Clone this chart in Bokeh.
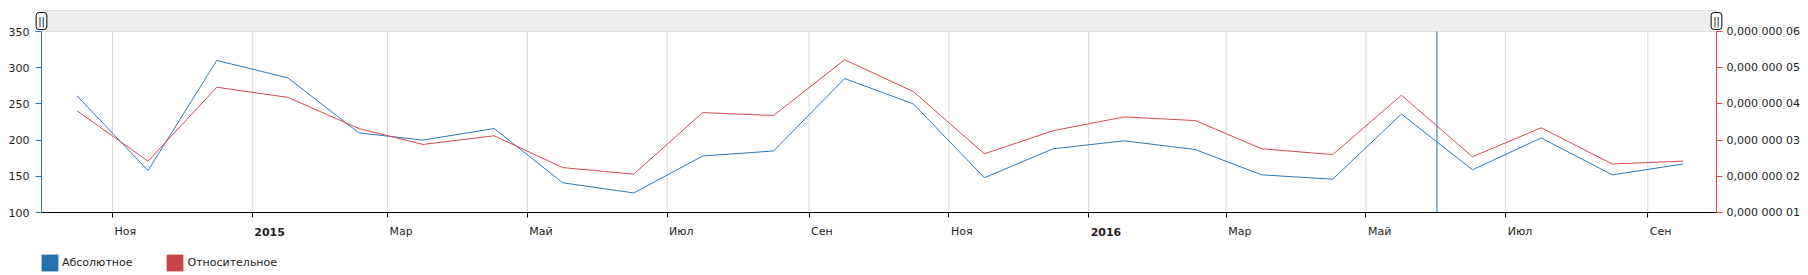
from datetime import datetime
from bokeh.plotting import figure
from bokeh.models import (Range1d, LinearAxis, FixedTicker, CustomJSTickFormatter,
                          Label, Legend, LegendItem)
from bokeh.embed import file_html
from bokeh.resources import INLINE

# ---------------- data ----------------
months = ["2014-10", "2014-11", "2014-12", "2015-01", "2015-02", "2015-03",
          "2015-04", "2015-05", "2015-06", "2015-07", "2015-08", "2015-09",
          "2015-10", "2015-11", "2015-12", "2016-01", "2016-02", "2016-03",
          "2016-04", "2016-05", "2016-06", "2016-07", "2016-08", "2016-09"]
absolute = [261, 158, 310, 286, 210, 200, 216, 141, 127, 178, 185, 285,
            250, 148, 188, 199, 187, 152, 146, 236, 159, 203, 152, 167]
relative = [3.81e-8, 2.42e-8, 4.46e-8, 4.18e-8, 3.32e-8, 2.88e-8, 3.12e-8, 2.24e-8,
            2.06e-8, 3.76e-8, 3.68e-8, 5.22e-8, 4.34e-8, 2.62e-8, 3.26e-8, 3.64e-8,
            3.54e-8, 2.76e-8, 2.60e-8, 4.24e-8, 2.54e-8, 3.34e-8, 2.34e-8, 2.42e-8]
tick_months = ["2014-11", "2015-01", "2015-03", "2015-05", "2015-07", "2015-09",
               "2015-11", "2016-01", "2016-03", "2016-05", "2016-07", "2016-09"]
tick_labels = ["Ноя", "2015", "Мар", "Май", "Июл", "Сен",
               "Ноя", "2016", "Мар", "Май", "Июл", "Сен"]
bold_labels = ["2015", "2016"]
left_ticks = [100, 150, 200, 250, 300, 350]
right_ticks = [1e-8, 2e-8, 3e-8, 4e-8, 5e-8, 6e-8]
cursor_month = "2016-06"
series_names = ["Абсолютное", "Относительное"]

# ---------------- helpers ----------------
EPOCH = datetime(1970, 1, 1)


def ms(dt):
    return (dt - EPOCH).total_seconds() * 1000.0


def mid(m):
    y, mo = map(int, m.split("-"))
    return datetime(y, mo, 16, 12)


def start(m):
    y, mo = map(int, m.split("-"))
    return datetime(y, mo, 1)


xs = [mid(m) for m in months]
tick_ms = [ms(start(m)) for m in tick_months]
x_start = datetime(2014, 10, 1)
x_end = datetime(2016, 10, 1)

# layout (pixels) -- the frame covers the whole canvas
W, H = 1808, 275
TOP, AXTOP, BOTTOM = 10, 31, 212
LEFT, RIGHT = 41, 1716

x_ppm = (RIGHT - LEFT) / (ms(x_end) - ms(x_start))
xr0 = ms(x_start) - LEFT / x_ppm
xr1 = ms(x_end) + (W - RIGHT) / x_ppm

y_lo, y_hi = left_ticks[0], left_ticks[-1]
ppu = (BOTTOM - AXTOP) / (y_hi - y_lo)
yr0 = y_lo - (H - BOTTOM) / ppu
yr1 = y_hi + AXTOP / ppu
y_band = y_hi + (AXTOP - TOP) / ppu

r_lo, r_hi = right_ticks[0], right_ticks[-1]
rpu = (BOTTOM - AXTOP) / (r_hi - r_lo)
rr0 = r_lo - (H - BOTTOM) / rpu
rr1 = r_hi + AXTOP / rpu


def ypx(py):  # screen y -> left-axis data
    return y_lo - (py - BOTTOM) / ppu


FONT = "DejaVu Sans"
BLUE = "#2f78b8"
RED = "#d24a4a"
BLUE_LEG = "#2471ad"
RED_LEG = "#c94444"
TXT = "#222222"

p = figure(width=W, height=H, x_axis_type="datetime", output_backend="svg",
           toolbar_location=None, x_range=Range1d(xr0, xr1),
           y_range=Range1d(yr0, yr1),
           min_border_left=0, min_border_right=0,
           min_border_top=0, min_border_bottom=0)
p.outline_line_color = None
p.background_fill_color = "white"
p.border_fill_color = "white"
p.extra_y_ranges = {"rel": Range1d(rr0, rr1)}
p.xgrid.visible = False
p.ygrid.visible = False

# vertical grid lines (bimonthly ticks), only over the plot area
p.segment(x0=tick_ms, y0=[y_lo] * len(tick_ms), x1=tick_ms, y1=[y_hi] * len(tick_ms),
          line_color="#d8d8d8", line_width=1)

# x axis (ticks only; labels placed left-aligned below)
xa = p.xaxis[0]
xa.fixed_location = y_lo
xa.bounds = (ms(x_start), ms(x_end))
xa.ticker = FixedTicker(ticks=tick_ms)
xa.formatter = CustomJSTickFormatter(code="return '';")
xa.axis_line_color = "black"
xa.major_tick_line_color = "black"
xa.major_tick_out = 5
xa.major_tick_in = 0
xa.minor_tick_line_color = None

# left axis
ya = p.yaxis[0]
ya.fixed_location = ms(x_start)
ya.ticker = FixedTicker(ticks=left_ticks)
ya.bounds = (y_lo, y_hi)
ya.axis_line_color = BLUE
ya.major_tick_line_color = BLUE
ya.major_tick_out = 6
ya.major_tick_in = 0
ya.minor_tick_line_color = None
ya.major_label_standoff = 6
ya.major_label_text_font = FONT
ya.major_label_text_font_size = "11px"
ya.major_label_text_color = TXT

# right axis
ra = LinearAxis(y_range_name="rel",
                ticker=FixedTicker(ticks=right_ticks),
                formatter=CustomJSTickFormatter(
                    code="return '0,000 000 0' + Math.round(tick*1e8);"))
ra.fixed_location = ms(x_end)
ra.bounds = (r_lo, r_hi)
ra.axis_line_color = RED
ra.major_tick_line_color = RED
ra.major_tick_out = 6
ra.major_tick_in = 0
ra.minor_tick_line_color = None
ra.major_label_standoff = 4
ra.major_label_text_font = FONT
ra.major_label_text_font_size = "11px"
ra.major_label_text_color = TXT
p.add_layout(ra, "right")

# scrollbar band
p.quad(left=[x_start], right=[x_end], bottom=[y_hi], top=[y_band],
       fill_color="#efefef", line_color="#dedede", line_width=1)

# data lines
p.line(xs, absolute, line_color=BLUE, line_width=1)
p.line(xs, relative, line_color=RED, line_width=1, y_range_name="rel")

# cursor line
cx = start(cursor_month)
p.segment(x0=[cx], y0=[y_lo], x1=[cx], y1=[y_hi], line_color="#1f6fb4", line_width=1)

# scrollbar handles
for hx in (x_start, x_end):
    p.add_layout(Label(x=ms(hx), y=(y_hi + y_band) / 2, text="||",
                       text_align="center", text_baseline="middle",
                       text_font=FONT, text_font_size="10px", text_color="black",
                       background_fill_color="white", border_line_color="black",
                       border_line_width=1, border_radius=3,
                       padding=dict(left=2, right=2, top=3, bottom=3)))

# x tick labels (left aligned at ticks)
for t, lab in zip(tick_ms, tick_labels):
    p.add_layout(Label(x=t, y=ypx(231), text=lab, x_offset=2,
                       text_align="left", text_baseline="alphabetic",
                       text_font=FONT, text_font_size="11px", text_color=TXT,
                       text_font_style="bold" if lab in bold_labels else "normal"))

# legend (zero-area swatch renderers so the legend has colored squares)
ra_leg = p.quad(left=[x_start], right=[x_start], top=[y_lo], bottom=[y_lo],
                fill_color=BLUE_LEG, line_color=None)
rr_leg = p.quad(left=[x_start], right=[x_start], top=[y_lo], bottom=[y_lo],
                fill_color=RED_LEG, line_color=None)
legend = Legend(items=[LegendItem(label=series_names[0], renderers=[ra_leg]),
                       LegendItem(label=series_names[1], renderers=[rr_leg])],
                location=(LEFT - 2, 2), orientation="horizontal", padding=0, margin=0,
                spacing=32, glyph_width=21, glyph_height=21, label_height=21,
                label_standoff=2, label_text_font=FONT, label_text_font_size="11px",
                label_text_color=TXT, border_line_color=None,
                background_fill_alpha=0)
p.add_layout(legend)

open("out.html", "w").write(file_html(p, INLINE))
